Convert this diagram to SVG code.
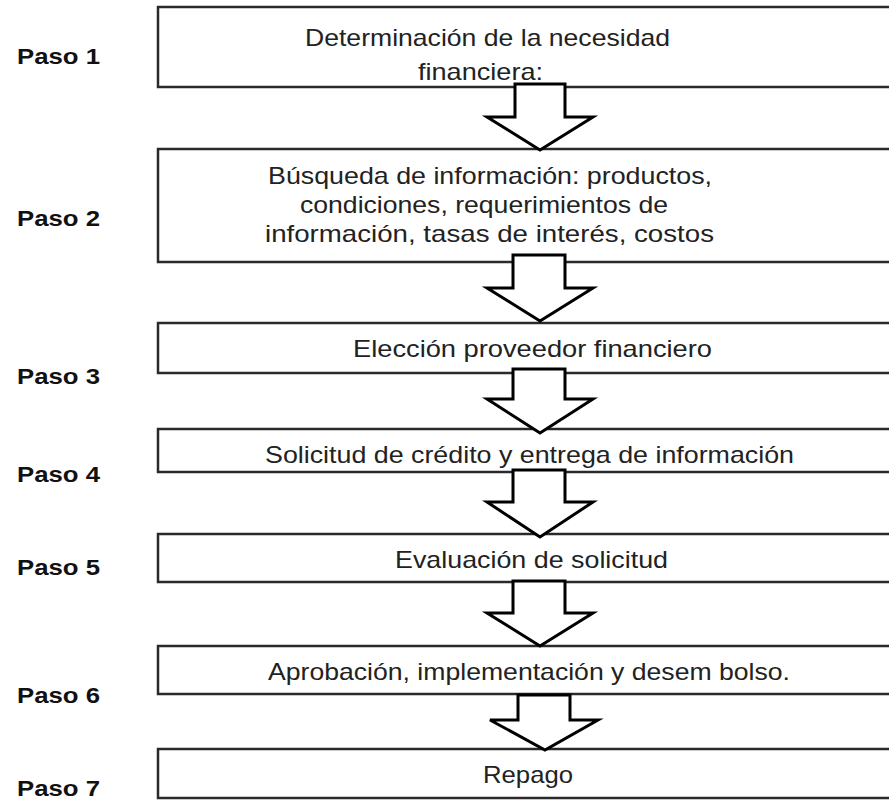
<svg xmlns="http://www.w3.org/2000/svg" width="889" height="800" viewBox="0 0 889 800">
<style>
.box{fill:#fff;stroke:#2a2a2a;stroke-width:2.5}
.arr{fill:#fff;stroke:#000;stroke-width:3;stroke-linejoin:miter}
.t{font-family:"Liberation Sans",Arial,sans-serif;font-size:24px;fill:#222;text-anchor:start}
.p{font-family:"Liberation Sans",Arial,sans-serif;font-size:22px;font-weight:bold;fill:#111}
</style>
<rect width="889" height="800" fill="#fff"/>
<g id="labels">
<text class="p" x="17" y="64" textLength="83" lengthAdjust="spacingAndGlyphs">Paso 1</text>
<text class="p" x="17" y="226" textLength="83" lengthAdjust="spacingAndGlyphs">Paso 2</text>
<text class="p" x="17" y="384" textLength="83" lengthAdjust="spacingAndGlyphs">Paso 3</text>
<text class="p" x="17" y="482" textLength="83" lengthAdjust="spacingAndGlyphs">Paso 4</text>
<text class="p" x="17" y="575" textLength="83" lengthAdjust="spacingAndGlyphs">Paso 5</text>
<text class="p" x="17" y="703" textLength="83" lengthAdjust="spacingAndGlyphs">Paso 6</text>
<text class="p" x="17" y="796" textLength="83" lengthAdjust="spacingAndGlyphs">Paso 7</text>
</g>
<g id="node1"><rect class="box" x="158" y="7" width="740" height="80"/></g>
<g id="node2"><rect class="box" x="158" y="149" width="740" height="113"/></g>
<g id="node3"><rect class="box" x="158" y="323" width="740" height="50"/></g>
<g id="node4"><rect class="box" x="158" y="429" width="740" height="43"/></g>
<g id="node5"><rect class="box" x="158" y="534" width="740" height="48"/></g>
<g id="node6"><rect class="box" x="158" y="646" width="740" height="48"/></g>
<g id="node7"><rect class="box" x="158" y="749" width="740" height="49"/></g>
<g id="connectors">
<polygon class="arr" points="515,84 565,84 565,117 593,117 540,150 487,117 515,117"/>
<polygon class="arr" points="513,255 565,255 565,288 593,288 540,321 487,288 513,288"/>
<polygon class="arr" points="513,369 565,369 565,399 593,399 540,433 487,399 513,399"/>
<polygon class="arr" points="513,470 565,470 565,502 593,502 540,537 487,502 513,502"/>
<polygon class="arr" points="513,581 565,581 565,613 593,613 540,646 487,613 513,613"/>
<polygon class="arr" points="518,695 570,695 570,720 598,720 545,750 490,720 518,720"/>
</g>
<g id="texts">
<text class="t" x="305" y="46" textLength="365" lengthAdjust="spacingAndGlyphs">Determinación de la necesidad</text>
<text class="t" x="418" y="80" textLength="125" lengthAdjust="spacingAndGlyphs">financiera:</text>
<text class="t" x="268" y="184" textLength="444" lengthAdjust="spacingAndGlyphs">Búsqueda de información: productos,</text>
<text class="t" x="300" y="213" textLength="368" lengthAdjust="spacingAndGlyphs">condiciones, requerimientos de</text>
<text class="t" x="265" y="242" textLength="449" lengthAdjust="spacingAndGlyphs">información, tasas de interés, costos</text>
<text class="t" x="353" y="357" textLength="359" lengthAdjust="spacingAndGlyphs">Elección proveedor financiero</text>
<text class="t" x="265" y="463" textLength="529" lengthAdjust="spacingAndGlyphs">Solicitud de crédito y entrega de información</text>
<text class="t" x="395" y="568" textLength="273" lengthAdjust="spacingAndGlyphs">Evaluación de solicitud</text>
<text class="t" x="268" y="680" textLength="522" lengthAdjust="spacingAndGlyphs">Aprobación, implementación y desem bolso.</text>
<text class="t" x="483" y="783" textLength="90" lengthAdjust="spacingAndGlyphs">Repago</text>
</g>
</svg>
